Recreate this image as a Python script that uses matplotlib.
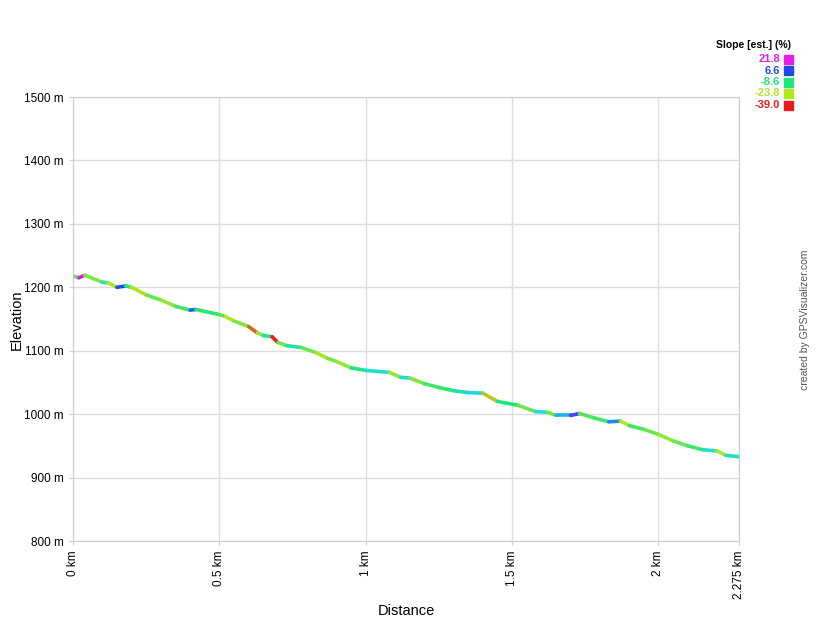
import numpy as np
import matplotlib.pyplot as plt
from matplotlib.collections import LineCollection
from matplotlib.colors import LinearSegmentedColormap, Normalize

plt.rcParams['font.family'] = ['Liberation Sans', 'DejaVu Sans']

# distance (km) and elevation (m)
dist = [0, 0.02, 0.04, 0.1, 0.12, 0.15, 0.18, 0.2, 0.25, 0.3, 0.35, 0.4, 0.42, 0.45,
        0.5, 0.52, 0.55, 0.6, 0.63, 0.65, 0.68, 0.7, 0.73, 0.78, 0.83, 0.87, 0.9,
        0.95, 1.0, 1.05, 1.08, 1.12, 1.15, 1.2, 1.25, 1.3, 1.35, 1.4, 1.45, 1.52,
        1.58, 1.62, 1.65, 1.7, 1.73, 1.78, 1.83, 1.87, 1.9, 1.95, 2.0, 2.05, 2.1,
        2.15, 2.2, 2.23, 2.275]
elev = [1218, 1215, 1219, 1208, 1207, 1200, 1202, 1200, 1188, 1180, 1170, 1164, 1165,
        1162, 1157, 1154, 1147, 1138, 1128, 1124, 1122, 1113, 1108, 1105, 1097, 1088,
        1083, 1073, 1069, 1067, 1066, 1058, 1057, 1048, 1042, 1037, 1034, 1033, 1020,
        1014, 1004, 1003, 998, 998, 1001, 994, 988, 989, 982, 976, 968, 958, 950,
        944, 942, 935, 933]

legend_vals = ['21.8', '6.6', '-8.6', '-23.8', '-39.0']
legend_cols = ['#e61ee6', '#1e4be6', '#1ee678', '#b4e61e', '#e61e1e']
xticks = [0, 0.5, 1, 1.5, 2, 2.275]
xtick_labels = ['0 km', '0.5 km', '1 km', '1.5 km', '2 km', '2.275 km']
yticks = [800, 900, 1000, 1100, 1200, 1300, 1400, 1500]

d = np.array(dist)
e = np.array(elev)
slope = np.diff(e) / (np.diff(d) * 1000) * 100

cmap = LinearSegmentedColormap.from_list('slope', [
    (0.0, '#e61e1e'), (0.25, '#b4e61e'), (0.5, '#1ee678'), (0.6, '#1edce6'),
    (0.75, '#1e4be6'), (1.0, '#e61ee6')])
norm = Normalize(-39.0, 21.8)

fig = plt.figure(figsize=(8.2, 6.22), dpi=100)
ax = fig.add_axes([73 / 820, 1 - 541 / 622, 666 / 820, 444 / 622])

pts = np.column_stack([d, e]).reshape(-1, 1, 2)
segs = np.concatenate([pts[:-1], pts[1:]], axis=1)
lc = LineCollection(segs, cmap=cmap, norm=norm, linewidths=2.6, capstyle='round')
lc.set_array(slope)
ax.add_collection(lc)

ax.set_xlim(0, 2.275)
ax.set_ylim(800, 1500)
ax.set_xticks(xticks)
ax.set_xticklabels(xtick_labels, rotation=90, fontsize=8.5)
ax.set_yticks(yticks)
ax.set_yticklabels([f'{v} m' for v in yticks], fontsize=8.5)
ax.grid(color='#dddddd', linewidth=1)
ax.set_axisbelow(True)
for s in ax.spines.values():
    s.set_color('#cccccc')
ax.tick_params(length=3, color='#cccccc')
ax.set_xlabel('Distance', fontsize=10.5)
fig.text(17 / 820, 1 - 320 / 622, 'Elevation', rotation=90, ha='center', va='center',
         fontsize=10.5)

fig.text(791 / 820, 1 - 45 / 622, 'Slope [est.] (%)', ha='right', va='center',
         fontsize=7.5, fontweight='bold')
for i, (v, c) in enumerate(zip(legend_vals, legend_cols)):
    y = 1 - (59 + i * 11.5) / 622
    fig.text(780 / 820, y, v, ha='right', va='center', fontsize=8, fontweight='bold', color=c)
    fig.patches.append(plt.Rectangle((784 / 820, y - 4.5 / 622), 9 / 820, 9 / 622,
                                     transform=fig.transFigure, color=c))
fig.text(805 / 820, 1 - 320 / 622, 'created by GPSVisualizer.com', rotation=90,
         ha='center', va='center', fontsize=7.5, color='#555555')

fig.savefig('out.png', dpi=100)
